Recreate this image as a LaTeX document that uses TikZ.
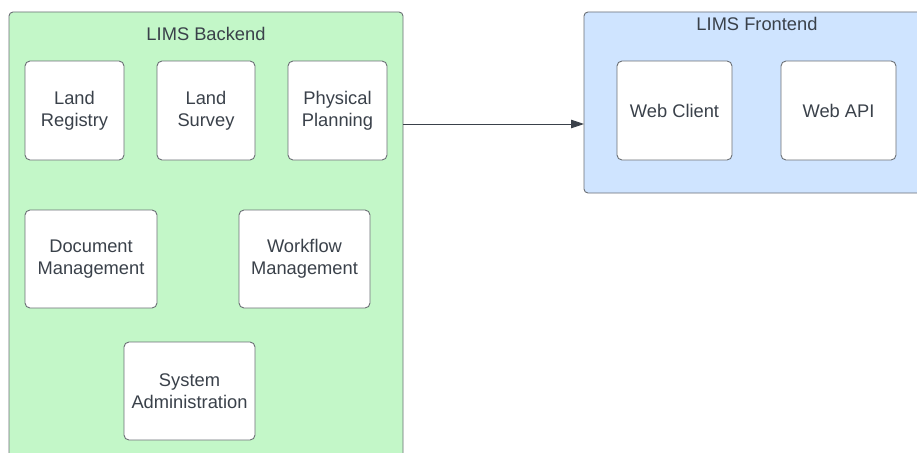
\documentclass[tikz,border=0pt]{standalone}
\usepackage{fontspec}
\setmainfont{Liberation Sans}
\usetikzlibrary{arrows.meta}
\definecolor{backfill}{HTML}{C3F7C8}
\definecolor{frontfill}{HTML}{CFE4FF}
\definecolor{edgegray}{HTML}{6B6F75}
\definecolor{txt}{HTML}{3A414A}
\tikzset{
  container/.style={draw=edgegray, line width=0.9pt, rounded corners=4pt, inner sep=0pt, outer sep=0pt, anchor=north west},
  compbox/.style={draw=edgegray, line width=0.9pt, fill=white, rounded corners=5pt, inner sep=0pt, outer sep=0pt, align=center, text=txt, font=\fontsize{18.3}{21.7}\selectfont},
  clabel/.style={text=txt, font=\fontsize{18.3}{21.7}\selectfont, inner sep=0pt},
  link/.style={draw=txt, line width=0.9pt, -{Triangle[length=13pt,width=8.5pt]}}
}
\begin{document}
\begin{tikzpicture}[x=1pt,y=-1pt]
\useasboundingbox (0,0) rectangle (917,452);
\clip (0,0) rectangle (917,452);
\fill[white] (0,0) rectangle (917,452);
% containers
\node[container, fill=backfill, minimum width=394pt, minimum height=470pt] (backend) at (9,12) {};
\node[container, fill=frontfill, minimum width=350pt, minimum height=181pt] (frontend) at (584,12) {};
\node[clabel] (backlabel) at (206,34) {LIMS Backend};
\node[clabel] (frontlabel) at (757,24) {LIMS Frontend};
% backend components
\node[compbox, minimum width=99pt, minimum height=99pt] (landreg) at (74.5,110.5) {Land\\Registry};
\node[compbox, minimum width=98pt, minimum height=99pt] (landsur) at (206,110.5) {Land\\Survey};
\node[compbox, minimum width=99pt, minimum height=99pt] (physplan) at (337.5,110.5) {Physical\\Planning};
\node[compbox, minimum width=132pt, minimum height=98pt] (docman) at (91,259) {Document\\Management};
\node[compbox, minimum width=131pt, minimum height=98pt] (workman) at (304.5,259) {Workflow\\Management};
\node[compbox, minimum width=131pt, minimum height=98pt] (sysadm) at (189.5,391) {System\\Administration};
% frontend components
\node[compbox, minimum width=115pt, minimum height=99pt] (webclient) at (674.5,110.5) {Web Client};
\node[compbox, minimum width=115pt, minimum height=99pt] (webapi) at (838.5,110.5) {Web API};
% connector
\coordinate (arrowy) at (0,124);
\draw[link] (arrowy -| backend.east) -- (arrowy -| frontend.west);
\end{tikzpicture}
\end{document}
